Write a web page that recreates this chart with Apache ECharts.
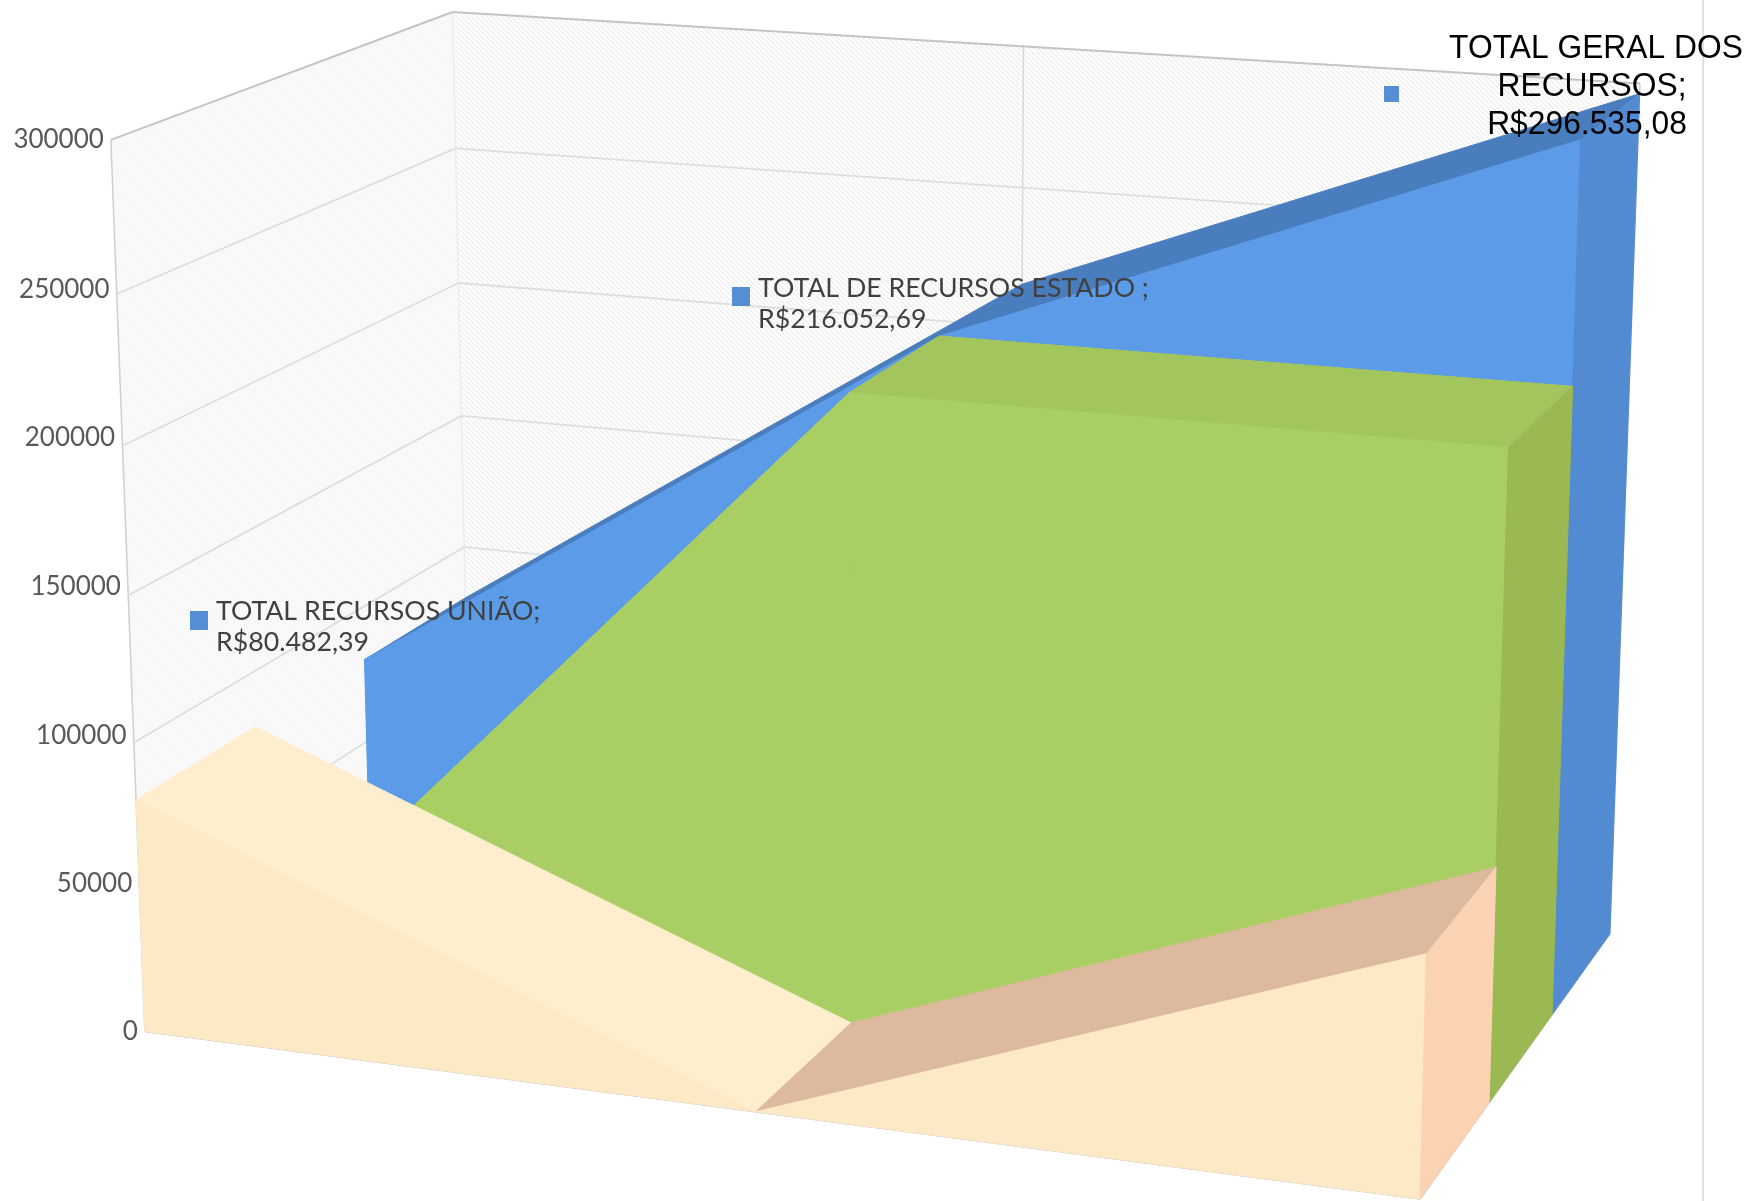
<!DOCTYPE html>
<html><head><meta charset="utf-8">
<style>html,body{margin:0;padding:0;background:#fff}#c{width:1752px;height:1201px}</style>
<script src="https://cdn.jsdelivr.net/npm/echarts@6/dist/echarts.min.js"></script>
</head><body><div id="c"></div>
<script>
// ---- data ----
const categories = ['TOTAL RECURSOS UNIÃO', 'TOTAL DE RECURSOS ESTADO', 'TOTAL GERAL DOS RECURSOS'];
const frontSeries = [80482.39, 0, 79000];
const middleSeries = [0, 215500, 215500];
const backSeries = [80482.39, 215500, 296535.08];
const valueTicks = [0, 50000, 100000, 150000, 200000, 250000, 300000];
const labelLinesUniao = ['TOTAL RECURSOS UNIÃO;', 'R$80.482,39'];
const labelLinesEstado = ['TOTAL DE RECURSOS ESTADO ;', 'R$216.052,69'];
const labelLinesGeral = ['TOTAL GERAL DOS', 'RECURSOS;', 'R$296.535,08'];

// ---- camera: where the cube's reference points appear on the page ----
// [category pos, depth, value fraction, pageX, pageY]
const cameraAnchors = [
  [0,0,0,144,1030.5],[0,0,0,144,1030.5],[1,0,0,1419.6,1201],[1,0,0,1419.6,1201],[0,1,0,470,807],[1,1,0,1610,933],
  [0,0,1,111.7,139.7],[0,1,1,451.4,11.5],[1,1,1,1641,84],
  [.5,0,0,757,1111],[1,1/3,0,1489,1101],[1,2/3,0,1552,1013],
  [0,0,1/3,134,743.5],[0,0,2/3,123,445.8],[0,1,2/3,459,282.4],[0,1,1/3,465,547],
  [.5,1,1,1022,46.7]
];
function solveCamera(pts){
  const n=11, A=[...Array(n)].map(()=>new Array(n+1).fill(0));
  const add=(r,t)=>{for(let i=0;i<n;i++){for(let j=0;j<n;j++)A[i][j]+=r[i]*r[j];A[i][n]+=r[i]*t;}};
  pts.forEach(([u,v,w,x,y])=>{
    x/=1000;y/=1000;
    add([u,v,w,1,0,0,0,0,-x*u,-x*v,-x*w],x);
    add([0,0,0,0,u,v,w,1,-y*u,-y*v,-y*w],y);
  });
  for(let i=0;i<n;i++){
    let m=i;for(let k=i+1;k<n;k++)if(Math.abs(A[k][i])>Math.abs(A[m][i]))m=k;
    [A[i],A[m]]=[A[m],A[i]];
    for(let k=0;k<n;k++){if(k===i)continue;const f=A[k][i]/A[i][i];for(let j=i;j<=n;j++)A[k][j]-=f*A[i][j];}
  }
  return A.map((r,i)=>r[n]/r[i]);
}
const P=solveCamera(cameraAnchors);
function project(u,v,w){
  const d=P[8]*u+P[9]*v+P[10]*w+1;
  return [1000*(P[0]*u+P[1]*v+P[2]*w+P[3])/d,1000*(P[4]*u+P[5]*v+P[6]*w+P[7])/d];
}

// ---- hatch tiles for the walls ----
function hatch(size,bg,fg,lw){
  const c=document.createElement('canvas');c.width=c.height=size;
  const g=c.getContext('2d');g.fillStyle=bg;g.fillRect(0,0,size,size);
  g.strokeStyle=fg;g.lineWidth=lw;
  [-size,0,size].forEach(o=>{g.beginPath();g.moveTo(o,0);g.lineTo(o+size,size);g.stroke();});
  return {image:c,repeat:'repeat'};
}
const backHatch=hatch(5,'#ffffff','#eeeeee',1.5);
const sideHatch=hatch(3,'#fbfbfb','#f3f3f3',1);

// ---- helpers using the library's scales ----
const uvw=(api,params,cat,val,depth)=>{
  const c=api.coord([cat,val]),g=params.coordSys;
  return project((c[0]-g.x)/g.width,depth,(g.y+g.height-c[1])/g.height);
};
const poly=(points,fill,sw)=>({type:'polygon',shape:{points},style:{fill,stroke:typeof fill==='string'?fill:null,lineWidth:sw||1}});
const line=(a,b,stroke,lineWidth)=>({type:'line',shape:{x1:a[0],y1:a[1],x2:b[0],y2:b[1]},style:{stroke,lineWidth}});

// one extruded area band between two depths
function band(values,d0,d1,cols){
  return function(params,api){
    const i=params.dataIndex,kids=[];
    if(i<values.length-1){
      const a0=uvw(api,params,i,values[i],d0),b0=uvw(api,params,i+1,values[i+1],d0),
            a1=uvw(api,params,i,values[i],d1),b1=uvw(api,params,i+1,values[i+1],d1),
            fa=uvw(api,params,i,0,d0),fb=uvw(api,params,i+1,0,d0);
      kids.push(poly([a0,b0,b1,a1],cols.top[i]));
      kids.push(poly([fa,a0,b0,fb],cols.front));
    }else{
      const t0=uvw(api,params,i,values[i],d0),t1=uvw(api,params,i,values[i],d1),
            f0=uvw(api,params,i,0,d0),f1=uvw(api,params,i,0,d1);
      kids.push(poly([t0,t1,f1,f0],cols.cap));
    }
    return {type:'group',children:kids};
  };
}
const bandSeries=(name,values,d0,d1,cols,z)=>({
  type:'custom',name,coordinateSystem:'cartesian2d',z,silent:true,clip:false,
  data:values.map((v,i)=>[i,v]),encode:{x:0,y:1},renderItem:band(values,d0,d1,cols)
});

// ---- walls, gridlines, tick labels ----
function wallItem(params,api){
  const i=params.dataIndex,val=valueTicks[i],kids=[],g=params.coordSys;
  const fr=v=>(g.y+g.height-api.coord([0,v])[1])/g.height;
  const W=(u,v,vv)=>project(u,v,fr(vv));
  const top=valueTicks[valueTicks.length-1];
  if(i===0){
    kids.push(poly([W(0,1,0),W(1,1,0),W(1,1,top),W(0,1,top)],backHatch));
    kids.push(poly([W(0,0,0),W(0,1,0),W(0,1,top),W(0,0,top)],sideHatch));
    kids.push(line(W(.5,1,0),W(.5,1,top),'#d9d9d9',1.5));
    kids.push(line(W(0,1,0),W(0,1,top),'#ececec',1.5));
    kids.push(line(W(0,0,0),W(0,0,top),'#cfcfcf',1.5));
    kids.push(line(W(1,1,0),W(1,1,top),'#cfcfcf',1.5));
    kids.push(line(W(0,0,0),W(1,0,0),'#bdbdbd',1.5));
    kids.push(line(W(1,0,0),W(1,1,0),'#bdbdbd',1.5));
  }
  const isTop=val===top;
  const col=isTop?'#c4c4c4':'#dedede',lw=isTop?2:1.8;
  if(val>0){
    kids.push(line(W(0,0,val),W(0,1,val),col,lw));
    kids.push(line(W(0,1,val),W(1,1,val),col,lw));
  }
  // tick labels are evenly spaced along the wall's front edge
  const b=W(0,0,0),t=W(0,0,top),f=val/top;
  kids.push({type:'text',x:b[0]+(t[0]-b[0])*f-7,y:b[1]+(t[1]-b[1])*f+(val>0&&!isTop?1:0),style:{text:String(val),fontFamily:'Lato',fontSize:26,fill:'#595959',align:'right',verticalAlign:'middle'}});
  return {type:'group',children:kids};
}

// ---- data labels (page layout) ----
const labelLayout=[
  {lines:labelLinesUniao,sw:[190,611,18,19],x:216,y:611,lh:31},
  {lines:labelLinesEstado,sw:[732,287,18,19],x:758,y:288,lh:31},
  {lines:labelLinesGeral,sw:[1384,86,15,16],x:1592,y:49,lh:38,big:true,dx:[4,0,-5]}
];
function labelItem(params){
  const l=labelLayout[params.dataIndex],kids=[];
  kids.push({type:'rect',shape:{x:l.sw[0],y:l.sw[1],width:l.sw[2],height:l.sw[3]},style:{fill:'#558ed5'}});
  l.lines.forEach((t,k)=>{
    kids.push(l.big
      ?{type:'text',x:l.x+l.dx[k],y:l.y+k*l.lh,scaleX:.935,style:{text:t,fontFamily:'Liberation Sans',fontSize:34,fill:'#000',align:'center',verticalAlign:'middle'}}
      :{type:'text',x:l.x,y:l.y+k*l.lh,style:{text:t,fontFamily:'Lato',fontSize:26.7,fill:'#404040',align:'left',verticalAlign:'middle'}});
  });
  return {type:'group',children:kids};
}

const chart=echarts.init(document.getElementById('c'),null,{renderer:'canvas'});
chart.setOption({
  backgroundColor:'#ffffff',animation:false,
  grid:{left:0,right:0,top:0,bottom:0},
  xAxis:{type:'category',data:categories,boundaryGap:false,show:false},
  yAxis:{type:'value',min:0,max:300000,interval:50000,show:false},
  series:[
    {type:'custom',name:'walls',coordinateSystem:'cartesian2d',z:1,silent:true,clip:false,
     data:valueTicks.map(v=>[0,v]),encode:{x:0,y:1},renderItem:wallItem},
    bandSeries('Total geral',backSeries,2/3,1,{front:'#5b9be8',top:['#4a7dbd','#4a7dbd'],cap:'#538bd3'},2),
    bandSeries('Estado',middleSeries,1/3,2/3,{front:'#a9ce63',top:['#a3c55e','#a3c55e'],cap:'#9ab953'},3),
    bandSeries('União',frontSeries,0,1/3,{front:'#fee9c7',top:['#feeecd','#ddba9d'],cap:'#fbd3b3'},4),
    {type:'custom',name:'labels',coordinateSystem:'cartesian2d',z:5,silent:true,clip:false,
     data:labelLayout.map((l,i)=>[i,0]),encode:{x:0,y:1},renderItem:labelItem}
  ],
  graphic:[{type:'line',shape:{x1:1703,y1:0,x2:1703,y2:1201},style:{stroke:'#d9d9d9',lineWidth:1.5},z:0}]
});
</script></body></html>
